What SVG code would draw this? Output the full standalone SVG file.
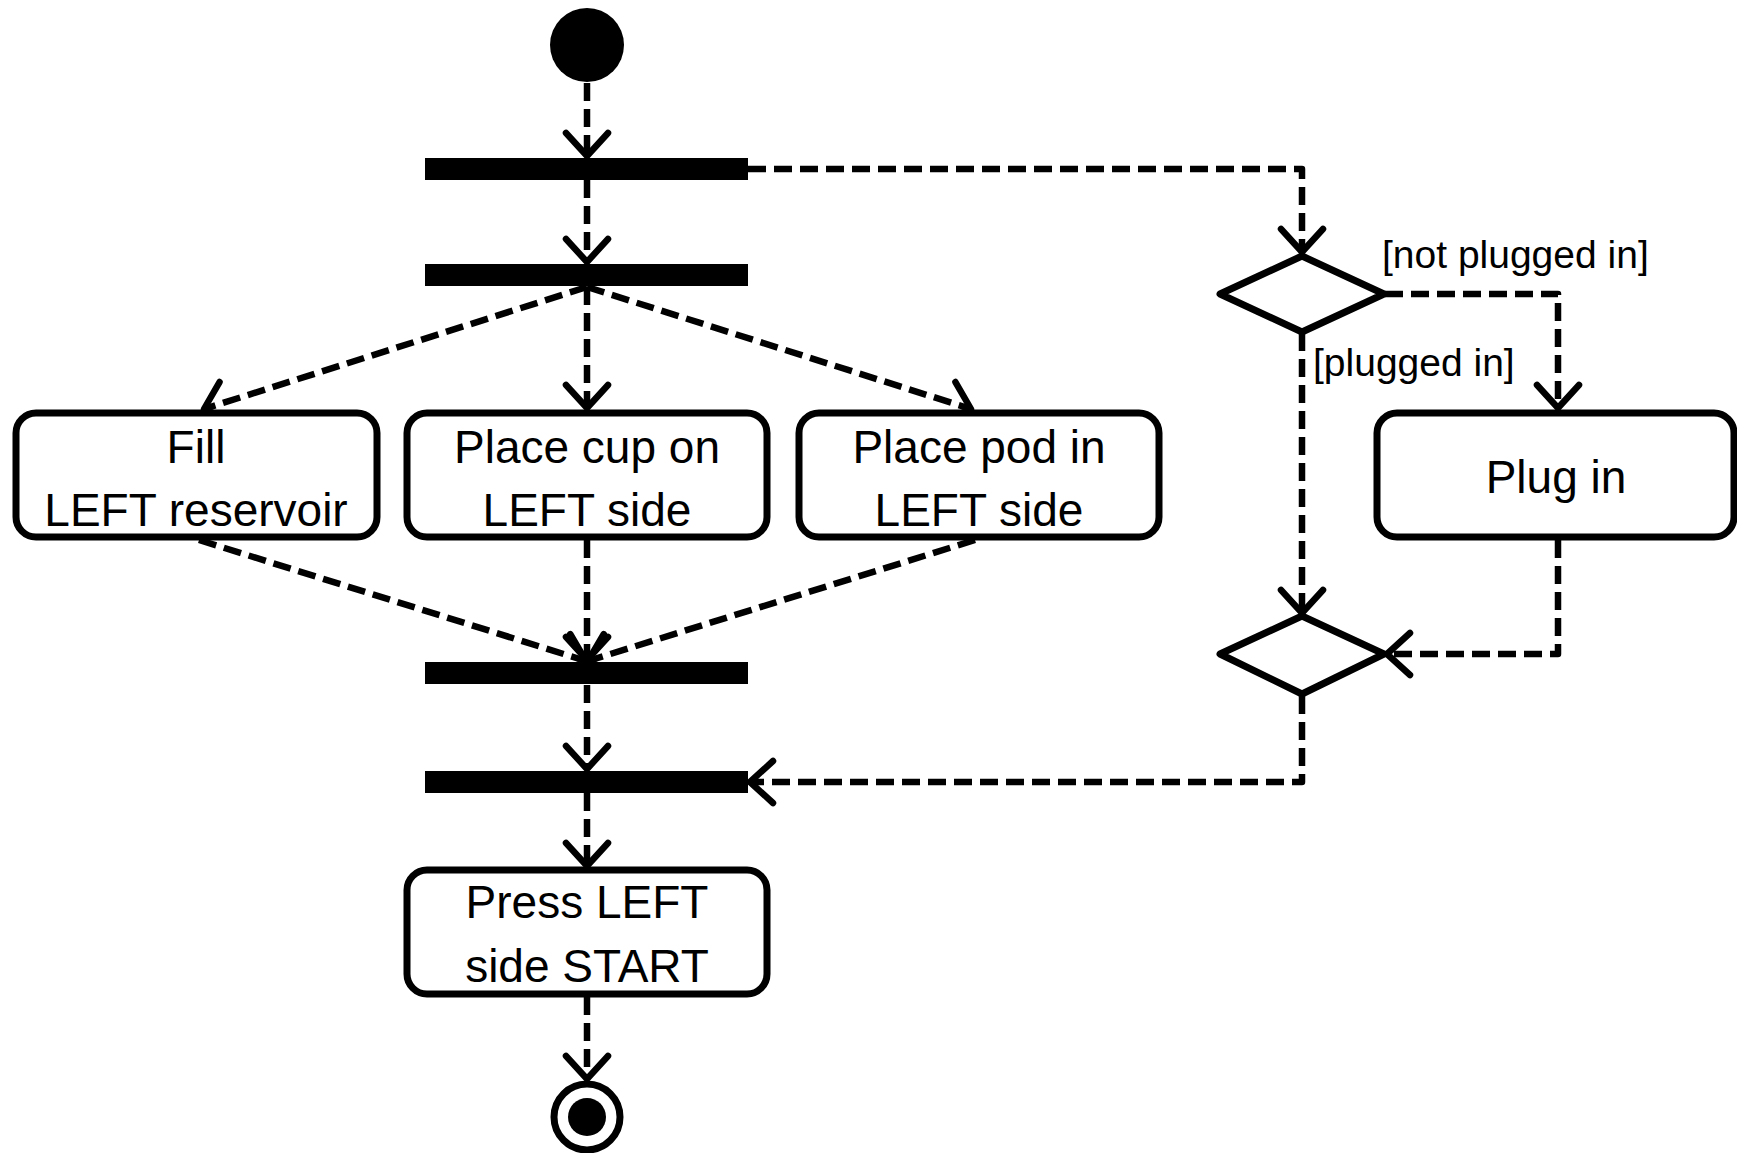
<svg xmlns="http://www.w3.org/2000/svg" width="1737" height="1153" viewBox="0 0 1737 1153">
<defs>
<style>
.box{fill:#fff;stroke:#000;stroke-width:7}
.bar{fill:#000}
.dia{fill:#fff;stroke:#000;stroke-width:7;stroke-linejoin:round}
.t{font-family:"Liberation Sans",Arial,sans-serif;font-size:46px;fill:#000;text-anchor:middle}
.lbl{font-family:"Liberation Sans",Arial,sans-serif;font-size:39px;fill:#000}
.c{fill:none;stroke:#000;stroke-width:6.5;stroke-dasharray:18 8;stroke-linejoin:round;marker-end:url(#ah)}
</style>
<marker id="ah" markerUnits="userSpaceOnUse" viewBox="-30 -30 40 60" refX="0" refY="0" markerWidth="40" markerHeight="60" orient="auto" overflow="visible">
<path d="M-23,-21 L0,0 L-23,21" fill="none" stroke="#000" stroke-width="6.5" stroke-linecap="round" stroke-linejoin="round" stroke-dasharray="none"/>
</marker>
</defs>
<rect width="1737" height="1153" fill="#fff"/>
<g id="connectors">
<path class="c" d="M587,83 L587,156"/>
<path class="c" d="M587,180 L587,262"/>
<path class="c" d="M748,169 L1302,169 L1302,252"/>
<path class="c" d="M587,287 L204,409"/>
<path class="c" d="M587,287 L587,408"/>
<path class="c" d="M587,287 L971,409"/>
<path class="c" d="M199,540 L586,661"/>
<path class="c" d="M587,540 L587,660"/>
<path class="c" d="M975,540 L588,661"/>
<path class="c" d="M587,685 L587,769"/>
<path class="c" d="M587,793 L587,866"/>
<path class="c" d="M587,997 L587,1079"/>
<path class="c" d="M1385,294 L1558,294 L1558,408"/>
<path class="c" d="M1302,333 L1302,613"/>
<path class="c" d="M1558,540 L1558,654 L1387,654"/>
<path class="c" d="M1302,696 L1302,782 L750,782"/>
</g>
<g id="start"><circle cx="587" cy="45" r="37" fill="#000"/></g>
<g id="fork1"><rect class="bar" x="425" y="158" width="323" height="22"/></g>
<g id="fork2"><rect class="bar" x="425" y="264" width="323" height="22"/></g>
<g id="fill">
<rect class="box" x="16" y="413" width="361" height="124" rx="20"/>
<text class="t" x="196" y="463">Fill</text>
<text class="t" x="196" y="526">LEFT reservoir</text>
</g>
<g id="cup">
<rect class="box" x="407" y="413" width="360" height="124" rx="20"/>
<text class="t" x="587" y="463">Place cup on</text>
<text class="t" x="587" y="526">LEFT side</text>
</g>
<g id="pod">
<rect class="box" x="799" y="413" width="360" height="124" rx="20"/>
<text class="t" x="979" y="463">Place pod in</text>
<text class="t" x="979" y="526">LEFT side</text>
</g>
<g id="plugin">
<rect class="box" x="1377" y="413" width="357" height="124" rx="20"/>
<text class="t" x="1556" y="493">Plug in</text>
</g>
<g id="decision"><polygon class="dia" points="1302,256 1384,294 1302,332 1220,294"/></g>
<g id="merge"><polygon class="dia" points="1302,616 1384,654 1302,694 1220,654"/></g>
<g id="join1"><rect class="bar" x="425" y="662" width="323" height="22"/></g>
<g id="join2"><rect class="bar" x="425" y="771" width="323" height="22"/></g>
<g id="press">
<rect class="box" x="407" y="870" width="360" height="124" rx="20"/>
<text class="t" x="587" y="918">Press LEFT</text>
<text class="t" x="587" y="982">side START</text>
</g>
<g id="end">
<circle cx="587" cy="1117" r="33" fill="#fff" stroke="#000" stroke-width="7"/>
<circle cx="587" cy="1117" r="19" fill="#000"/>
</g>
<g id="labels">
<text class="lbl" x="1382" y="268">[not plugged in]</text>
<text class="lbl" x="1313" y="376">[plugged in]</text>
</g>
</svg>
